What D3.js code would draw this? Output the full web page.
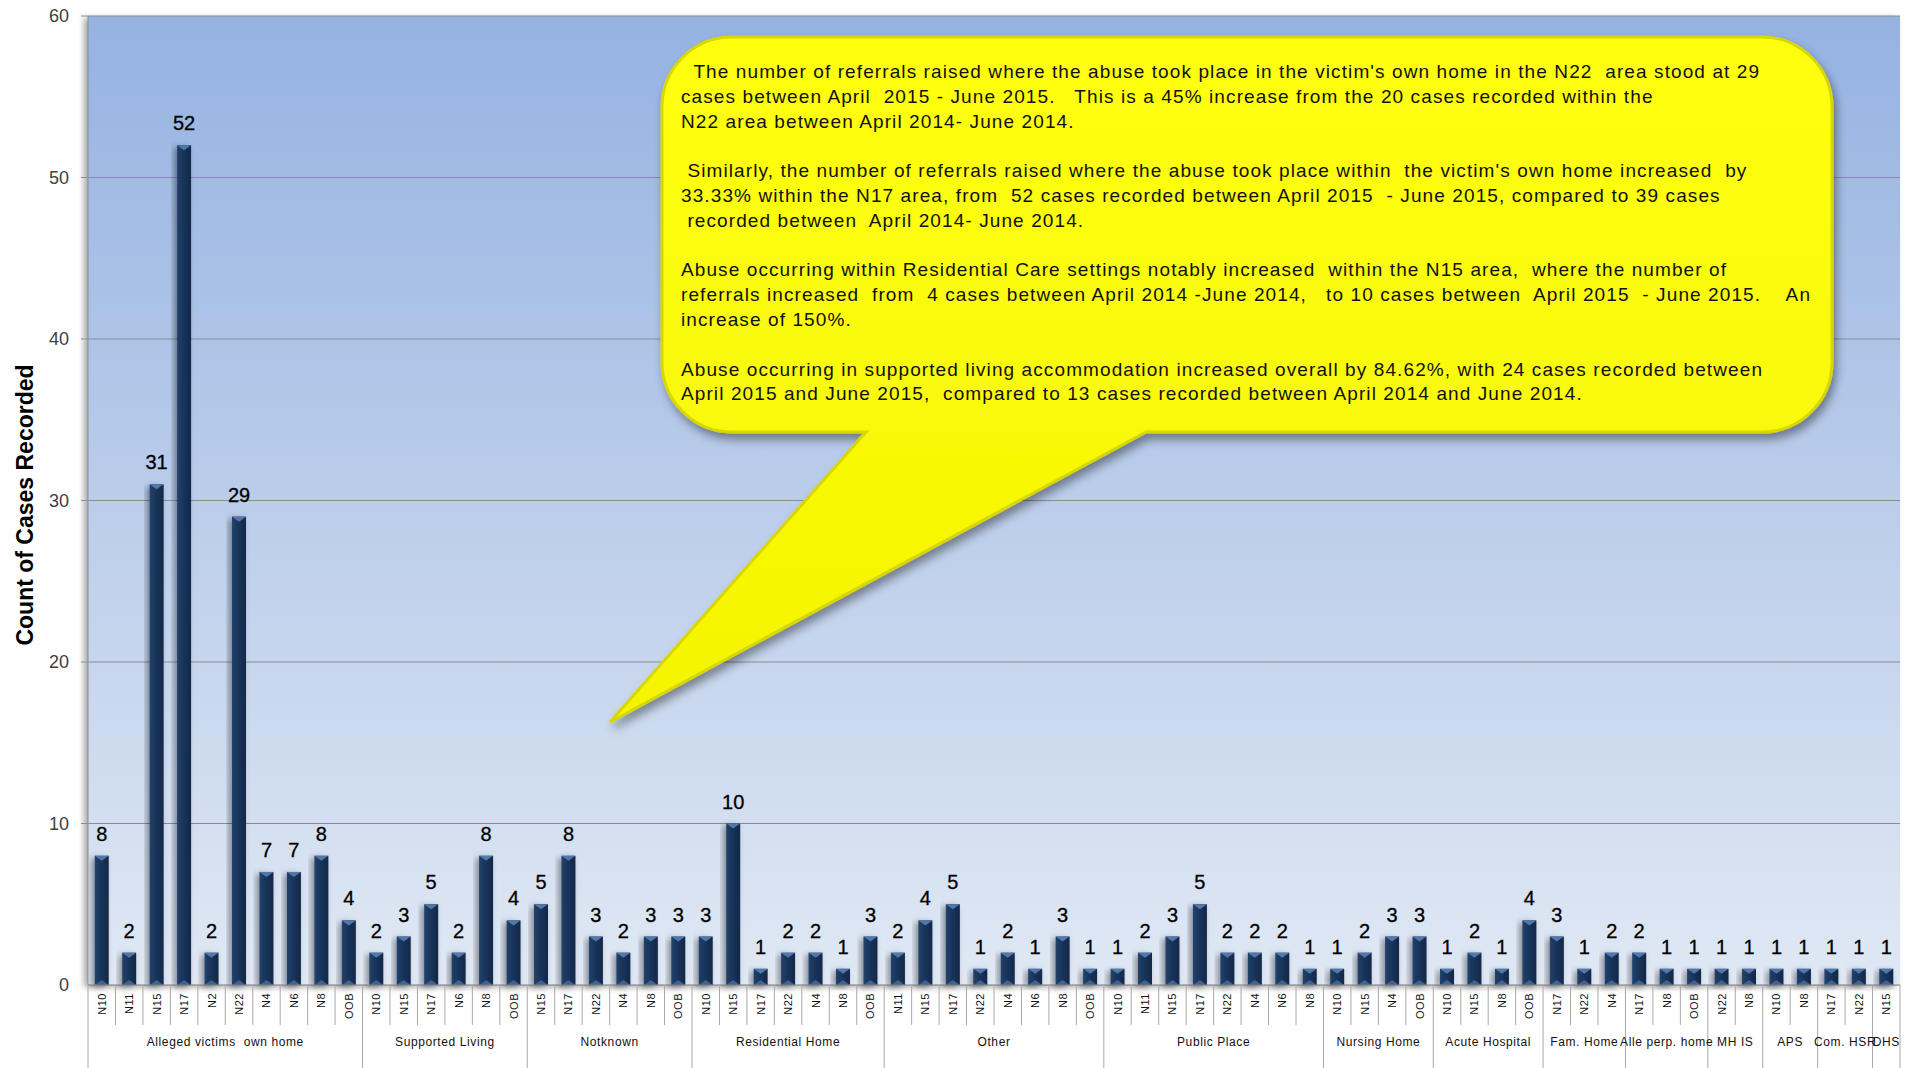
<!DOCTYPE html>
<html>
<head>
<meta charset="utf-8">
<script src="https://cdn.jsdelivr.net/npm/d3@7"></script>
<style>
  body { margin: 0; background: #fff; }
  svg { display: block; font-family: "Liberation Sans", Arial, sans-serif; }
</style>
</head>
<body>
<svg id="chart" width="1912" height="1068"></svg>
<script>
// groupes de lieux et nombre de codes postaux dans chaque groupe
var groups = ["Alleged victims  own home", "Supported Living", "Notknown", "Residential Home", "Other",
              "Public Place", "Nursing Home", "Acute Hospital", "Fam. Home", "Alle perp. home",
              "MH IS", "APS", "Com. HSR", "DHS"];
var group_sizes = [10, 6, 6, 7, 8, 8, 4, 4, 3, 3, 2, 2, 2, 1];

// étiquettes de l'axe x (codes postaux)
var areas = ["N10","N11","N15","N17","N2","N22","N4","N6","N8","OOB",
             "N10","N15","N17","N6","N8","OOB",
             "N15","N17","N22","N4","N8","OOB",
             "N10","N15","N17","N22","N4","N8","OOB",
             "N11","N15","N17","N22","N4","N6","N8","OOB",
             "N10","N11","N15","N17","N22","N4","N6","N8",
             "N10","N15","N4","OOB",
             "N10","N15","N8","OOB",
             "N17","N22","N4",
             "N17","N8","OOB",
             "N22","N8",
             "N10","N8",
             "N17","N22",
             "N15"];

// nombre de cas
var cases = [8,2,31,52,2,29,7,7,8,4,
             2,3,5,2,8,4,
             5,8,3,2,3,3,
             3,10,1,2,2,1,3,
             2,4,5,1,2,1,3,1,
             1,2,3,5,2,2,2,1,
             1,2,3,3,
             1,2,1,4,
             3,1,2,
             2,1,1,
             1,1,
             1,1,
             1,1,
             1];

var y_ticks = [0, 10, 20, 30, 40, 50, 60];

var note_lines = [
  "  The number of referrals raised where the abuse took place in the victim's own home in the N22  area stood at 29",
  "cases between April  2015 - June 2015.   This is a 45% increase from the 20 cases recorded within the",
  "N22 area between April 2014- June 2014.",
  "",
  " Similarly, the number of referrals raised where the abuse took place within  the victim's own home increased  by",
  "33.33% within the N17 area, from  52 cases recorded between April 2015  - June 2015, compared to 39 cases",
  " recorded between  April 2014- June 2014.",
  "",
  "Abuse occurring within Residential Care settings notably increased  within the N15 area,  where the number of",
  "referrals increased  from  4 cases between April 2014 -June 2014,   to 10 cases between  April 2015  - June 2015.    An",
  "increase of 150%.",
  "",
  "Abuse occurring in supported living accommodation increased overall by 84.62%, with 24 cases recorded between",
  "April 2015 and June 2015,  compared to 13 cases recorded between April 2014 and June 2014."
];

var plot_left = 88, plot_right = 1900, plot_top = 16, plot_bottom = 985;
var svg = d3.select("#chart");
var defs = svg.append("defs");

// dégradé du fond
var bg = defs.append("linearGradient").attr("id", "bg").attr("x1", 0).attr("y1", 0).attr("x2", 0).attr("y2", 1);
bg.append("stop").attr("offset", "0%").attr("stop-color", "#95b2e1");
bg.append("stop").attr("offset", "100%").attr("stop-color", "#e0e8f4");

var barg = defs.append("linearGradient").attr("id", "barg").attr("x1", 0).attr("y1", 0).attr("x2", 1).attr("y2", 0);
barg.append("stop").attr("offset", "0%").attr("stop-color", "#22426d");
barg.append("stop").attr("offset", "40%").attr("stop-color", "#1a355b");
barg.append("stop").attr("offset", "100%").attr("stop-color", "#112849");

var yel = defs.append("linearGradient").attr("id", "yel").attr("x1", 0).attr("y1", 0).attr("x2", 0).attr("y2", 1);
yel.append("stop").attr("offset", "0%").attr("stop-color", "#ffff10");
yel.append("stop").attr("offset", "100%").attr("stop-color", "#f4f400");

function shadow(id, dx, dy, blur, op) {
  var f = defs.append("filter").attr("id", id).attr("x", "-40%").attr("y", "-20%").attr("width", "180%").attr("height", "150%");
  f.append("feDropShadow").attr("dx", dx).attr("dy", dy).attr("stdDeviation", blur)
   .attr("flood-color", "#000").attr("flood-opacity", op);
}
shadow("plotsh", -4, 2, 3, 0.35);
shadow("barsh", -3, 2, 3, 0.4);
shadow("callsh", 3, 6, 5, 0.4);

// échelles
var x = d3.scaleBand().domain(d3.range(cases.length)).range([plot_left, plot_right]).padding(0);
var y = d3.scaleLinear().domain([0, 60]).range([plot_bottom, plot_top]);

// fond du graphique
svg.append("rect")
  .attr("x", plot_left).attr("y", plot_top).attr("width", plot_right - plot_left).attr("height", plot_bottom - plot_top)
  .attr("fill", "url(#bg)").attr("filter", "url(#plotsh)");

// lignes de grille
svg.append("g").selectAll("line").data(y_ticks.filter(d => d > 0)).enter().append("line")
  .attr("x1", plot_left - 7).attr("x2", plot_right).attr("y1", d => y(d)).attr("y2", d => y(d))
  .attr("stroke", "#8c8c8c").attr("stroke-width", 1);

svg.append("g").selectAll("text").data(y_ticks).enter().append("text")
  .attr("x", 69).attr("y", d => y(d) + 6)
  .attr("text-anchor", "end").attr("font-size", 18).attr("fill", "#404040")
  .text(d => d);

// axe y
svg.append("line").attr("x1", plot_left).attr("x2", plot_left).attr("y1", plot_top).attr("y2", plot_bottom)
  .attr("stroke", "#8c8c8c");

svg.append("text")
  .attr("transform", "translate(33,505) rotate(-90)")
  .attr("text-anchor", "middle").attr("font-size", 23).attr("font-weight", "bold").attr("fill", "#000")
  .text("Count of Cases Recorded");

// barres
var bw = 14;
var bars = svg.append("g").selectAll("g").data(cases).enter().append("g");
bars.append("rect")
  .attr("x", (d, i) => x(i) + x.bandwidth() / 2 - bw / 2)
  .attr("y", d => y(d))
  .attr("width", bw)
  .attr("height", d => plot_bottom - y(d))
  .attr("fill", "url(#barg)")
  .attr("filter", "url(#barsh)");
// chapeau triangulaire en haut
bars.append("path")
  .attr("d", function(d, i) {
    var x0 = x(i) + x.bandwidth() / 2 - bw / 2, t = y(d);
    return "M" + x0 + "," + t + "L" + (x0 + bw) + "," + t + "L" + (x0 + bw / 2) + "," + (t + 5) + "Z";
  })
  .attr("fill", "#5178a8");
// pied en bas
bars.append("path")
  .attr("d", function(d, i) {
    var x0 = x(i) + x.bandwidth() / 2 - bw / 2;
    return "M" + x0 + "," + plot_bottom + "L" + (x0 + bw) + "," + plot_bottom + "L" + (x0 + bw / 2) + "," + (plot_bottom - 5) + "Z";
  })
  .attr("fill", "#3f6390");

// étiquettes des valeurs
svg.append("g").selectAll("text").data(cases).enter().append("text")
  .attr("x", (d, i) => x(i) + x.bandwidth() / 2)
  .attr("y", d => y(d) - 15)
  .attr("text-anchor", "middle").attr("font-size", 20).attr("fill", "#000")
  .attr("stroke", "#000").attr("stroke-width", 0.3)
  .text(d => d);

// axe x
svg.append("line").attr("x1", plot_left).attr("x2", plot_right).attr("y1", plot_bottom).attr("y2", plot_bottom)
  .attr("stroke", "#7a7a7a");

// séparateurs entre catégories
var group_starts = [0];
group_sizes.forEach(function(s, i) { group_starts.push(group_starts[i] + s); });

svg.append("g").selectAll("line").data(d3.range(cases.length + 1)).enter().append("line")
  .attr("x1", i => i < cases.length ? x(i) : plot_right)
  .attr("x2", i => i < cases.length ? x(i) : plot_right)
  .attr("y1", plot_bottom)
  .attr("y2", i => group_starts.indexOf(i) >= 0 ? 1068 : 1025)
  .attr("stroke", "#a8a8a8");

svg.append("g").selectAll("text").data(areas).enter().append("text")
  .attr("transform", (d, i) => "translate(" + (x(i) + x.bandwidth() / 2 + 4) + ",993) rotate(-90)")
  .attr("text-anchor", "end").attr("font-size", 11).attr("letter-spacing", 0.5).attr("fill", "#111")
  .text(d => d);

svg.append("g").selectAll("text").data(groups).enter().append("text")
  .attr("x", (d, i) => (x(group_starts[i]) + (group_starts[i + 1] < cases.length ? x(group_starts[i + 1]) : plot_right)) / 2)
  .attr("y", 1046)
  .attr("text-anchor", "middle").attr("font-size", 12).attr("letter-spacing", 0.6).attr("fill", "#111")
  .style("white-space", "pre")
  .text(d => d);

// bulle de commentaire
var cx0 = 662, cy0 = 37, cx1 = 1832, cy1 = 432, r = 70;
var bubble = "M" + (cx0 + r) + "," + cy0 + "H" + (cx1 - r) +
  "A" + r + "," + r + " 0 0 1 " + cx1 + "," + (cy0 + r) + "V" + (cy1 - r) +
  "A" + r + "," + r + " 0 0 1 " + (cx1 - r) + "," + cy1 + "H1146L610,722L866," + cy1 +
  "H" + (cx0 + r) + "A" + r + "," + r + " 0 0 1 " + cx0 + "," + (cy1 - r) + "V" + (cy0 + r) +
  "A" + r + "," + r + " 0 0 1 " + (cx0 + r) + "," + cy0 + "Z";
svg.append("path").attr("d", bubble).attr("fill", "url(#yel)").attr("filter", "url(#callsh)")
  .attr("stroke", "#d8d800").attr("stroke-width", 3);

svg.append("g").selectAll("text").data(note_lines).enter().append("text")
  .attr("x", 681).attr("y", (d, i) => 78 + i * 24.8)
  .attr("font-size", 19).attr("letter-spacing", 1.1).attr("fill", "#111")
  .style("white-space", "pre")
  .text(d => d);
</script>
</body>
</html>
